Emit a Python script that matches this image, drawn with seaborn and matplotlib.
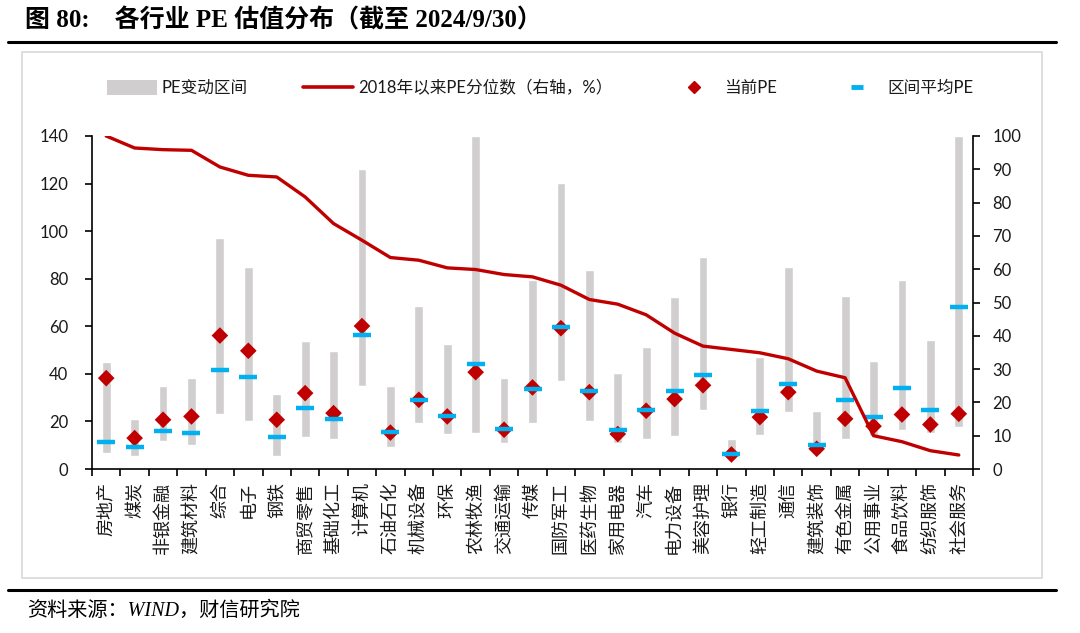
import numpy as np
import matplotlib
matplotlib.use('Agg')
import matplotlib.pyplot as plt
import seaborn as sns
from matplotlib.patches import Rectangle, Patch
from matplotlib.lines import Line2D

categories = ['房地产', '煤炭', '非银金融', '建筑材料', '综合', '电子', '钢铁', '商贸零售',
              '基础化工', '计算机', '石油石化', '机械设备', '环保', '农林牧渔', '交通运输', '传媒',
              '国防军工', '医药生物', '家用电器', '汽车', '电力设备', '美容护理', '银行', '轻工制造',
              '通信', '建筑装饰', '有色金属', '公用事业', '食品饮料', '纺织服饰', '社会服务']
pe_high = [44.9, 21.0, 35.1, 38.2, 97.3, 85.0, 31.5, 54.0, 49.8, 126.0, 35.1, 68.5, 52.6, 140.0,
           38.2, 79.5, 120.3, 83.6, 40.3, 51.5, 72.3, 89.2, 12.8, 47.0, 85.0, 24.3, 72.9, 45.5,
           79.3, 54.3, 140.0]
pe_low = [6.7, 5.6, 11.6, 9.9, 23.1, 20.3, 5.6, 13.3, 12.6, 34.7, 9.1, 19.3, 14.7, 15.1, 10.9,
          19.3, 37.1, 20.3, 10.9, 12.6, 13.7, 24.9, 4.5, 14.5, 23.9, 6.5, 12.7, 14.0, 16.6, 15.0,
          17.6]
pe_current = [38.2, 13.0, 20.7, 22.1, 56.1, 49.7, 20.7, 31.9, 23.5, 60.1, 15.3, 29.1, 22.1, 40.7,
              16.5, 34.3, 59.2, 32.3, 14.7, 24.5, 29.4, 35.2, 6.1, 21.8, 32.3, 8.5, 21.1, 18.0,
              22.9, 18.7, 23.2]
pe_mean = [11.2, 9.2, 15.8, 15.1, 41.5, 38.5, 13.3, 25.7, 21.0, 56.2, 15.7, 28.8, 22.2, 44.2, 16.8,
           33.6, 59.9, 33.0, 16.2, 24.9, 32.9, 39.7, 6.4, 24.2, 35.9, 10.0, 28.9, 21.8, 34.2, 24.9,
           68.2]
pct_since_2018 = [100, 96.4, 95.9, 95.7, 90.7, 88.2, 87.7, 81.7, 73.7, 68.7, 63.5, 62.7, 60.4, 59.9,
                  58.4, 57.7, 55.2, 50.9, 49.5, 46.3, 40.8, 36.9, 35.9, 34.9, 33.1, 29.4, 27.4,
                  10.0, 8.2, 5.5, 4.2]
left_ticks = [0, 20, 40, 60, 80, 100, 120, 140]
right_ticks = [0, 10, 20, 30, 40, 50, 60, 70, 80, 90, 100]
legend_labels = ['PE变动区间', '2018年以来PE分位数（右轴，%）', '当前PE', '区间平均PE']

GRAY = '#D0CECE'
RED = '#C00000'
BLUE = '#00B0F0'
TXT = '#1a1a1a'

sns.set_theme(style='white')
plt.rcParams['font.family'] = ['Lato', 'Noto Sans CJK SC', 'DejaVu Sans']
plt.rcParams['axes.unicode_minus'] = False

W, H = 1080, 633
fig = plt.figure(figsize=(W / 100, H / 100), dpi=100)
ax = fig.add_axes([92 / W, 1 - 469 / H, (973 - 92) / W, (469 - 136) / H])

x = np.arange(len(categories))
heights = np.array(pe_high) - np.array(pe_low)

sns.barplot(x=categories, y=heights, order=categories, bottom=pe_low, color=GRAY,
            saturation=1, width=0.31, ax=ax, zorder=1)
sns.scatterplot(x=x, y=pe_current, marker='D', s=72, color=RED, edgecolor='none',
                ax=ax, zorder=3, legend=False)
sns.scatterplot(x=x, y=pe_mean, marker='_', s=150, color=BLUE, linewidth=3.2,
                ax=ax, zorder=4, legend=False)

ax.set_xlim(-0.5, len(categories) - 0.5)
ax.set_ylim(0, 140)
ax.set_yticks(left_ticks)
ax.set_yticklabels([str(t) for t in left_ticks])
ax.set_xticks(np.arange(-0.5, len(categories), 1))
ax.set_xticklabels([])
ax.set_xticks(x, minor=True)
ax.set_xticklabels(categories, minor=True, rotation=90, va='top', ha='center',
                   fontsize=13, color=TXT, family=['Noto Sans CJK SC'])
ax.tick_params(axis='x', which='major', direction='out', length=5, width=1.2, color='black', bottom=True)
ax.tick_params(axis='x', which='minor', length=0, pad=9, bottom=True, labelsize=13)
ax.tick_params(axis='y', direction='out', length=5, width=1.2, color='black', pad=12,
               labelsize=12, labelcolor=TXT, left=True)
ax.set_xlabel('')
ax.set_ylabel('')
for s in ['top', 'right']:
    ax.spines[s].set_visible(False)
for s in ['left', 'bottom']:
    ax.spines[s].set_color('black')
    ax.spines[s].set_linewidth(1.2)

ax2 = ax.twinx()
sns.lineplot(x=x, y=pct_since_2018, color=RED, linewidth=2.4, ax=ax2, sort=False, legend=False)
ax2.set_ylim(0, 100)
ax2.set_yticks(right_ticks)
ax2.set_yticklabels([str(t) for t in right_ticks])
ax2.set_ylabel('')
ax2.tick_params(axis='y', direction='out', length=5, width=1.2, color='black', pad=9,
                labelsize=12, labelcolor=TXT, right=True)
for s in ['top', 'left', 'bottom']:
    ax2.spines[s].set_visible(False)
ax2.spines['right'].set_color('black')
ax2.spines['right'].set_linewidth(1.2)
ax2.set_xlim(-0.5, len(categories) - 0.5)

handles = [Patch(facecolor=GRAY, edgecolor='none'),
           Line2D([], [], color=RED, lw=2.6),
           Line2D([], [], marker='D', color=RED, ls='none', markersize=6),
           Line2D([], [], marker='_', color=BLUE, ls='none', markersize=9, mew=3.5)]
leg = fig.legend(handles, legend_labels, ncol=4, loc='center',
                 bbox_to_anchor=(540 / W, 1 - 88 / H), frameon=False, fontsize=12,
                 handlelength=3.0, handleheight=1.0, columnspacing=3.35, handletextpad=0.3)
for t in leg.get_texts():
    t.set_color(TXT)

# frame box and decorations
fig.add_artist(Rectangle((22 / W, 1 - 578 / H), (1042 - 22) / W, (578 - 52) / H,
                         transform=fig.transFigure, fill=False, edgecolor='#D9D9D9', lw=1.2))
fig.add_artist(Line2D([8 / W, 1056 / W], [1 - 42 / H, 1 - 42 / H], transform=fig.transFigure,
                      color='black', lw=2.2))
fig.add_artist(Line2D([8 / W, 1056 / W], [1 - 590 / H, 1 - 590 / H], transform=fig.transFigure,
                      color='black', lw=2.2))

fig.text(25 / W, 1 - 20 / H, '图 80:    各行业 PE 估值分布（截至 2024/9/30）', fontsize=18,
         fontweight='bold', va='center', ha='left', color='black',
         family=['Liberation Serif', 'Noto Sans CJK SC'])
fig.text(27 / W, 1 - 611 / H, '资料来源：WIND，财信研究院', fontsize=14.5, style='italic',
         va='center', ha='left', color='black',
         family=['Liberation Serif', 'Noto Sans CJK SC'])

fig.savefig('out.png', dpi=100)
